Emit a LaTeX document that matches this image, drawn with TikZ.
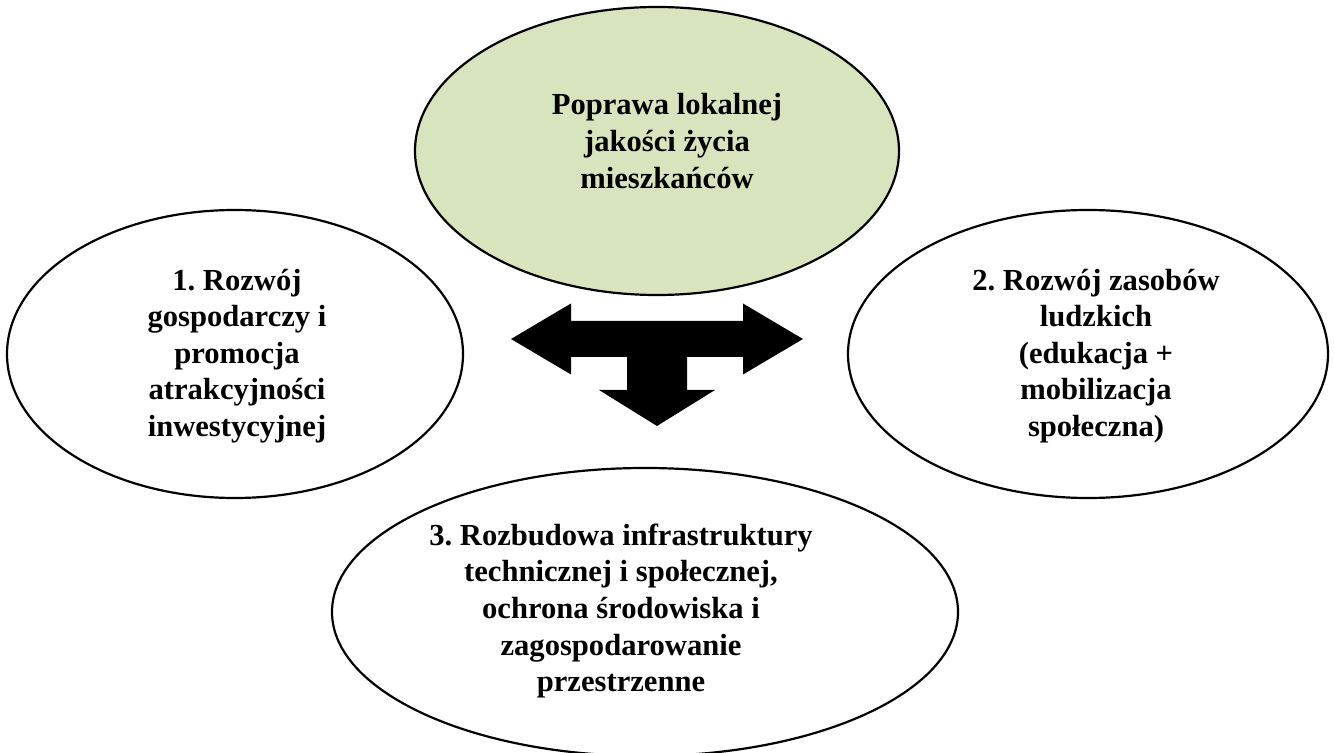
\documentclass[tikz,border=0pt]{standalone}
\usepackage{fontspec}
\setmainfont{Liberation Serif}
\usepackage{tikz}
\usepackage{xcolor}
\usetikzlibrary{shapes.geometric}
\frenchspacing

\definecolor{paleolive}{HTML}{D7E4BD}

\tikzset{
  oval/.style={draw, ellipse, line width=1.1pt, inner sep=0pt, minimum height=144pt},
  txt/.style={align=center, font=\fontsize{15.3pt}{18.3pt}\selectfont\bfseries}
}

\begin{document}
\begin{tikzpicture}[x=0.5pt, y=0.5pt]
  \useasboundingbox (0,0) rectangle (1334,-753);

  \node (goal) [oval, fill=paleolive, minimum width=242pt] at (657,-151) {};
  \node (econ) [oval, minimum width=228pt] at (235,-354) {};
  \node (people) [oval, minimum width=240pt] at (1088,-354) {};
  \node (infra) [oval, minimum width=313pt] at (645,-612) {};

  \node (goalText) [txt] at (667,-141) {Poprawa lokalnej\\jakości życia\\mieszkańców};
  \node (econText) [txt] at (237,-356) {1. Rozwój\\gospodarczy i\\promocja\\atrakcyjności\\inwestycyjnej};
  \node (peopleText) [txt] at (1096,-356) {2. Rozwój zasobów\\ludzkich\\(edukacja +\\mobilizacja\\społeczna)};
  \node (infraText) [txt] at (621,-611) {3. Rozbudowa infrastruktury\\technicznej i społecznej,\\ochrona środowiska i\\zagospodarowanie\\przestrzenne};

  % three-way arrow
  \coordinate (tee) at (657,-339);
  \fill[shift={(tee)}] (-146,0) -- (-86,35.5) -- (-86,18) -- (86,18) -- (86,35.5)
    -- (146,0) -- (86,-35.5) -- (86,-18) -- (30,-18) -- (30,-51) -- (58,-51)
    -- (0,-87) -- (-58,-51) -- (-30,-51) -- (-30,-18) -- (-86,-18) -- (-86,-35.5) -- cycle;
\end{tikzpicture}
\end{document}
